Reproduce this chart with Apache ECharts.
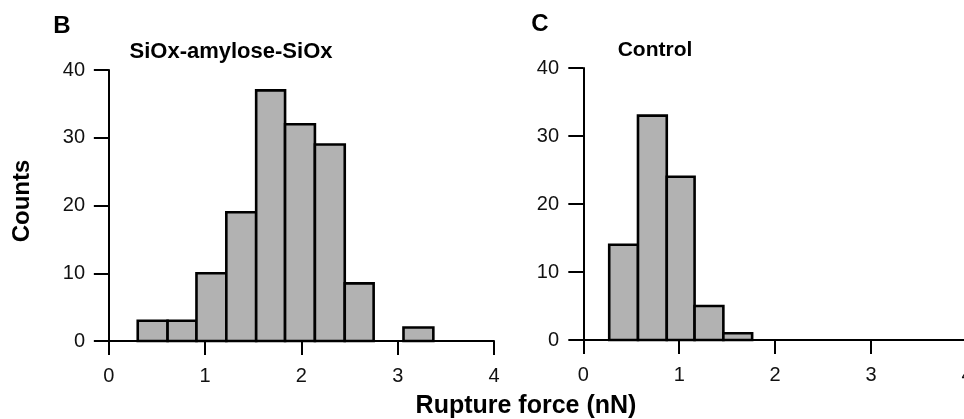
<!DOCTYPE html>
<html>
<head>
<meta charset="utf-8">
<script src="https://cdn.jsdelivr.net/npm/echarts@6/dist/echarts.min.js"></script>
<style>
html,body{margin:0;padding:0;background:#fff;}
#chart{width:964px;height:419px;}
</style>
</head>
<body>
<div id="chart"></div>
<script>
// Panel B: SiOx-amylose-SiOx
const edgesB = [0.30, 0.61, 0.91, 1.22, 1.53, 1.83, 2.14, 2.45, 2.75, 3.06, 3.37];
const countsB = [3, 3, 10, 19, 37, 32, 29, 8.5, 0, 2];
// Panel C: Control
const edgesC = [0.27, 0.57, 0.87, 1.16, 1.46, 1.76];
const countsC = [14, 33, 24, 5, 1];
// Tick values
const xTicks = [0, 1, 2, 3, 4];
const yMin = 0, yMax = 40, yStep = 10;

const panelLetters = ['B', 'C'];
const panelTitles = ['SiOx-amylose-SiOx', 'Control'];
const xAxisName = 'Rupture force (nN)';
const yAxisName = 'Counts';

const FONT = '"Liberation Sans", Arial, Helvetica, sans-serif';

function toData(edges, counts) {
  return counts.map((c, i) => [edges[i], edges[i + 1], c]);
}

function renderHist(params, api) {
  const c = api.value(2);
  if (!c) return null;
  const p0 = api.coord([api.value(0), 0]);
  const p1 = api.coord([api.value(1), c]);
  return {
    type: 'rect',
    shape: { x: p0[0], y: p1[1], width: p1[0] - p0[0], height: p0[1] - p1[1] },
    style: { fill: '#b2b2b2', stroke: '#000', lineWidth: 2.6 }
  };
}

function xAxisFor(gridIndex, min) {
  return {
    type: 'value', gridIndex, min, max: 4,
    axisLine: { show: true, onZero: false, lineStyle: { color: '#000', width: 2 } },
    axisTick: { show: true, customValues: xTicks, length: 14, lineStyle: { color: '#000', width: 2 } },
    axisLabel: { customValues: xTicks, margin: 25, color: '#111', fontSize: 20, fontFamily: FONT },
    splitLine: { show: false }
  };
}
function yAxisFor(gridIndex) {
  return {
    type: 'value', gridIndex, min: yMin, max: yMax, interval: yStep,
    axisLine: { show: true, lineStyle: { color: '#000', width: 2 } },
    axisTick: { show: true, length: 15, lineStyle: { color: '#000', width: 2 } },
    axisLabel: { margin: 20, color: '#111', fontSize: 20, fontFamily: FONT },
    splitLine: { show: false }
  };
}

function txt(x, y, text, size, rotation) {
  return {
    type: 'text', x, y, rotation: rotation || 0,
    style: { text, fill: '#000', fontSize: size, fontWeight: 'bold', fontFamily: FONT, align: 'center', verticalAlign: 'middle' }
  };
}

const chart = echarts.init(document.getElementById('chart'), null, { renderer: 'canvas' });
chart.setOption({
  backgroundColor: '#fff',
  animation: false,
  grid: [
    { left: 105, top: 70, width: 389, height: 271, containLabel: false, outerBoundsMode: 'none' },
    { left: 579, top: 68, width: 388, height: 272, containLabel: false, outerBoundsMode: 'none' }
  ],
  xAxis: [xAxisFor(0, -0.04), xAxisFor(1, -0.045)],
  yAxis: [yAxisFor(0), yAxisFor(1)],
  series: [
    { type: 'custom', xAxisIndex: 0, yAxisIndex: 0, renderItem: renderHist, data: toData(edgesB, countsB), clip: false },
    { type: 'custom', xAxisIndex: 1, yAxisIndex: 1, renderItem: renderHist, data: toData(edgesC, countsC), clip: false }
  ],
  graphic: [
    txt(62, 26, panelLetters[0], 24),
    txt(231, 52, panelTitles[0], 22),
    txt(540, 24, panelLetters[1], 24),
    txt(655, 50, panelTitles[1], 21),
    txt(526, 406, xAxisName, 25),
    txt(22, 201, yAxisName, 24, Math.PI / 2)
  ]
});
</script>
</body>
</html>
